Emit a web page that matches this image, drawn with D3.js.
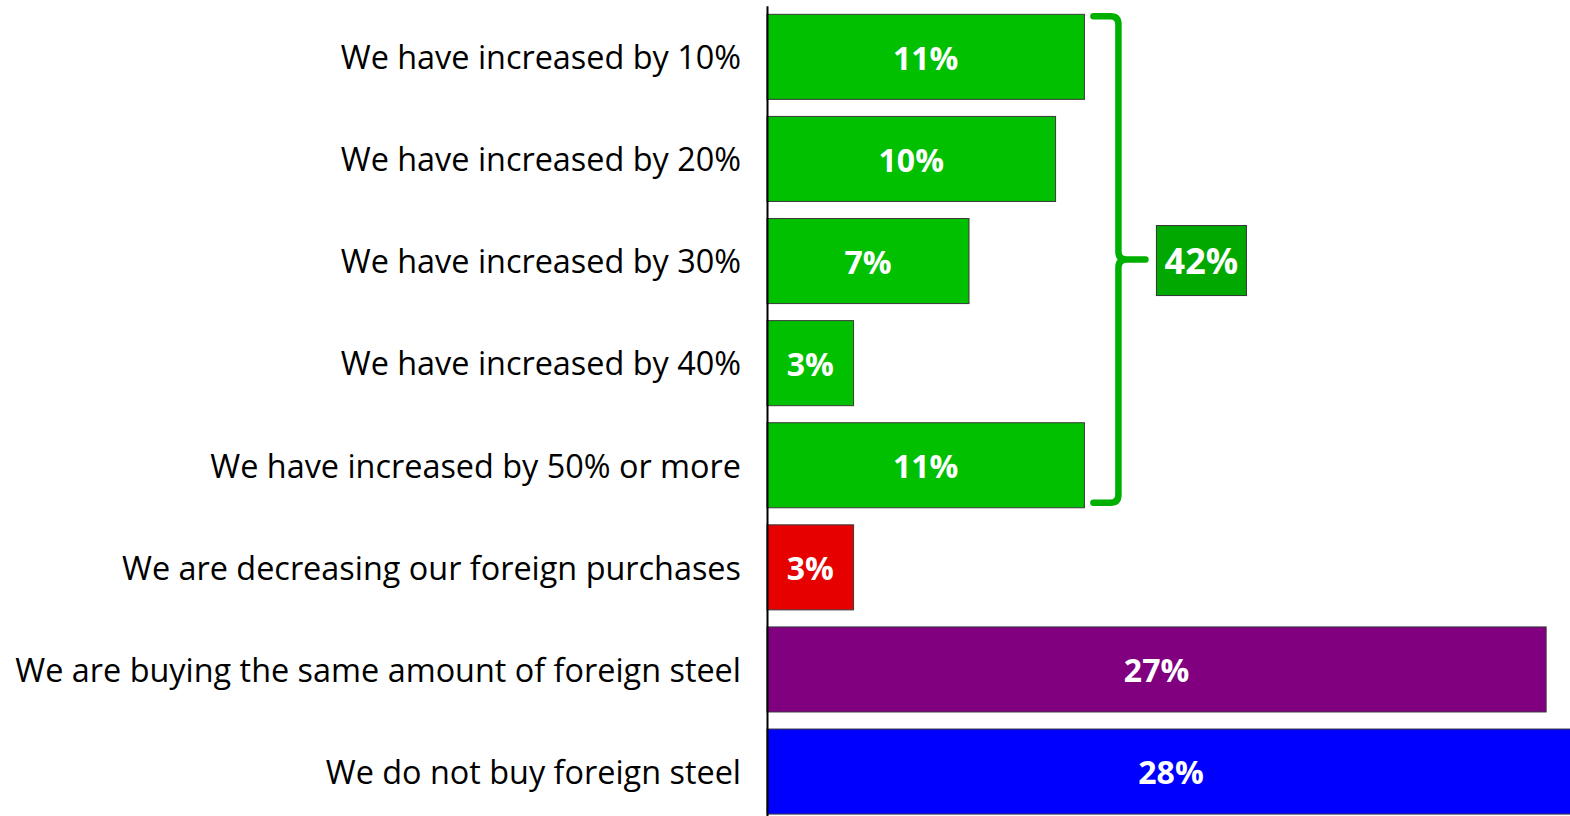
<!DOCTYPE html>
<html>
<head>
<meta charset="utf-8">
<script src="https://cdn.jsdelivr.net/npm/d3@7"></script>
<style>
  body { margin: 0; background: #fff; }
  svg { display: block; }
</style>
</head>
<body>
<svg width="1570" height="816"></svg>
<script>
var categories = [
  "We have increased by 10%",
  "We have increased by 20%",
  "We have increased by 30%",
  "We have increased by 40%",
  "We have increased by 50% or more",
  "We are decreasing our foreign purchases",
  "We are buying the same amount of foreign steel",
  "We do not buy foreign steel"
];
var values = [11, 10, 7, 3, 11, 3, 27, 28];
var colors = ["#00c000", "#00c000", "#00c000", "#00c000", "#00c000", "#e60000", "#800080", "#0000ff"];
// the first five rows are grouped by the brace
var groupCount = 5;

var data = categories.map(function(c, i) {
  return {cat: c, val: values[i], color: colors[i]};
});

var svg = d3.select("svg");

var xScale = d3.scaleLinear().domain([0, 28]).range([767, 1575]);
var yScale = d3.scaleBand()
  .domain(categories)
  .range([5.8, 822.6])
  .paddingInner(0.167)
  .paddingOuter(0.0835);

// bars
svg.selectAll(".bar")
  .data(data)
  .enter()
  .append("rect")
  .attr("class", "bar")
  .attr("x", xScale(0))
  .attr("y", (d)=>yScale(d.cat))
  .attr("width", (d)=>xScale(d.val) - xScale(0))
  .attr("height", yScale.bandwidth())
  .attr("fill", (d)=>d.color)
  .attr("stroke", "#3a3a3a")
  .attr("stroke-width", 1);

// value labels
svg.selectAll(".val")
  .data(data)
  .enter()
  .append("text")
  .attr("class", "val")
  .attr("x", (d)=>(xScale(0) + xScale(d.val)) / 2)
  .attr("y", (d)=>yScale(d.cat) + yScale.bandwidth() / 2)
  .attr("dy", "0.4em")
  .attr("text-anchor", "middle")
  .attr("fill", "#fff")
  .style("font-family", "'Open Sans', sans-serif")
  .style("font-weight", "bold")
  .style("font-size", "32px")
  .text((d)=>d.val + "%");

// category axis
var axis = svg.append("g")
  .attr("transform", "translate(" + xScale(0) + ",0)")
  .call(d3.axisLeft(yScale).tickSize(0).tickPadding(26));

axis.select(".domain")
  .attr("stroke", "#000")
  .attr("stroke-width", 2);

var labels = axis.selectAll(".tick text")
  .attr("dy", "0.38em")
  .attr("fill", "#000")
  .style("font-family", "'Open Sans', sans-serif")
  .style("font-size", "31px");

// fit the longest label to the width it has in the picture
var widest = d3.max(labels.nodes(), (n)=>n.getComputedTextLength());
labels.style("font-size", (31 * 726 / widest) + "px");

// brace around the increase rows
var braceTop = yScale(categories[0]) + 2;
var braceBottom = yScale(categories[groupCount - 1]) + yScale.bandwidth() - 5;
var braceMid = (braceTop + braceBottom) / 2;
var x0 = xScale(d3.max(values.slice(0, groupCount))) + 9;
var xv = x0 + 25;
var xt = xv + 27;
var r = 8;

var p = d3.path();
p.moveTo(x0, braceTop);
p.lineTo(xv - r, braceTop);
p.quadraticCurveTo(xv, braceTop, xv, braceTop + r);
p.lineTo(xv, braceMid - r);
p.quadraticCurveTo(xv, braceMid, xv + r, braceMid);
p.lineTo(xt, braceMid);
p.moveTo(xv + r, braceMid);
p.quadraticCurveTo(xv, braceMid, xv, braceMid + r);
p.lineTo(xv, braceBottom - r);
p.quadraticCurveTo(xv, braceBottom, xv - r, braceBottom);
p.lineTo(x0, braceBottom);

svg.append("path")
  .attr("d", p.toString())
  .attr("fill", "none")
  .attr("stroke", "#00b000")
  .attr("stroke-width", 6.5)
  .attr("stroke-linecap", "round");

// total box
var total = d3.sum(values.slice(0, groupCount));
var boxX = xt + 11;
svg.append("rect")
  .attr("x", boxX)
  .attr("y", braceMid - 34)
  .attr("width", 90)
  .attr("height", 70)
  .attr("fill", "#00a800")
  .attr("stroke", "#333")
  .attr("stroke-width", 1);

svg.append("text")
  .attr("x", boxX + 45)
  .attr("y", braceMid + 1)
  .attr("dy", "0.38em")
  .attr("text-anchor", "middle")
  .attr("fill", "#fff")
  .style("font-family", "'Open Sans', sans-serif")
  .style("font-weight", "bold")
  .style("font-size", "36px")
  .text(total + "%");
</script>
</body>
</html>
